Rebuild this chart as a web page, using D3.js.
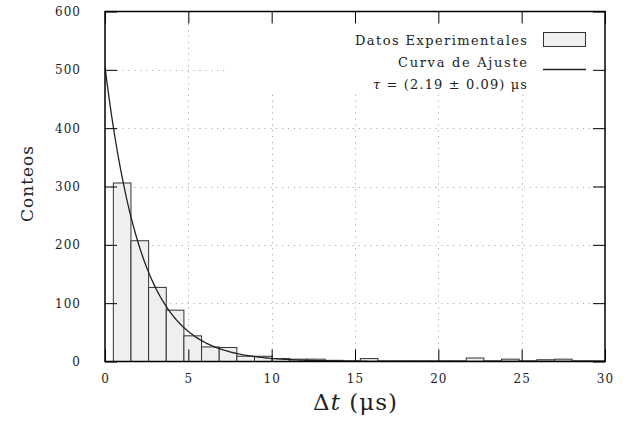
<!DOCTYPE html>
<html>
<head>
<meta charset="utf-8">
<script src="https://cdn.jsdelivr.net/npm/d3@7"></script>
<style>
  body { margin: 0; background: #fff; }
  svg { display: block; }
  text { font-family: "DejaVu Serif", serif; fill: #222; }
</style>
</head>
<body>
<div id="chart"></div>
<script>
// histogram of decay times (counts per bin)
const binStart = 0.5;
const binWidth = 1.0586;
const counts = [306, 207, 127, 88, 44, 25, 24, 9, 9, 5,
                4, 4, 2, 1, 5, 1, 1, 1, 1, 1,
                6, 1, 4, 1, 3, 4, 1, 1];

// fitted exponential  N(t) = A exp(-t / tau)
const fitA = 505;
const fitTau = 2.19;

const xTicks = [0, 5, 10, 15, 20, 25, 30];
const yTicks = [0, 100, 200, 300, 400, 500, 600];
const gridX = [5, 10, 15, 20, 25];
const gridY = [100, 200, 300, 400, 500];

const W = 638, H = 438;
const margin = {top: 11.5, right: 33, bottom: 76.5, left: 105};

const svg = d3.select("#chart").append("svg")
    .attr("width", W)
    .attr("height", H);

const x = d3.scaleLinear().domain([0, 30]).range([margin.left, W - margin.right]);
const y = d3.scaleLinear().domain([0, 600]).range([H - margin.bottom, margin.top]);

svg.append("defs").append("clipPath").attr("id", "plot")
  .append("rect")
    .attr("x", x(0)).attr("y", y(600))
    .attr("width", x(30) - x(0)).attr("height", y(0) - y(600));

// dotted grid
svg.append("g").selectAll("line")
  .data(gridX).enter().append("line")
    .attr("x1", d => Math.round(x(d)) + 0.5)
    .attr("x2", d => Math.round(x(d)) + 0.5)
    .attr("y1", y(0)).attr("y2", y(600))
    .attr("stroke", "#aaa").attr("stroke-width", 1)
    .attr("stroke-dasharray", "1.2,4.7");
svg.append("g").selectAll("line")
  .data(gridY).enter().append("line")
    .attr("y1", d => Math.round(y(d)) + 0.5)
    .attr("y2", d => Math.round(y(d)) + 0.5)
    .attr("x1", x(0)).attr("x2", x(30))
    .attr("stroke", "#aaa").attr("stroke-width", 1)
    .attr("stroke-dasharray", "1.2,4.7");

// bars
const bins = counts.map((c, i) => ({x0: binStart + i * binWidth, x1: binStart + (i + 1) * binWidth, n: c}));
svg.append("g").attr("clip-path", "url(#plot)")
  .selectAll("rect")
  .data(bins).enter().append("rect")
    .attr("x", d => x(d.x0))
    .attr("y", d => y(d.n))
    .attr("width", d => x(d.x1) - x(d.x0))
    .attr("height", d => y(0) - y(d.n))
    .attr("fill", "#efefef")
    .attr("stroke", "#333")
    .attr("stroke-width", 1);

// legend (opaque box hides the grid behind it)
const lg = svg.append("g");
lg.append("rect")
    .attr("x", 225).attr("y", y(600))
    .attr("width", x(30) - 225).attr("height", 80)
    .attr("fill", "#fff");
lg.append("text").attr("x", 527).attr("y", 45)
    .attr("text-anchor", "end").attr("font-size", 13)
    .attr("textLength", 172).attr("lengthAdjust", "spacing")
    .text("Datos Experimentales");
lg.append("rect")
    .attr("x", 543.5).attr("y", 32.5).attr("width", 42).attr("height", 14)
    .attr("fill", "#efefef").attr("stroke", "#333");
lg.append("text").attr("x", 527).attr("y", 67)
    .attr("text-anchor", "end").attr("font-size", 13)
    .attr("textLength", 129).attr("lengthAdjust", "spacing")
    .text("Curva de Ajuste");
lg.append("line")
    .attr("x1", 543).attr("x2", 586).attr("y1", 69.5).attr("y2", 69.5)
    .attr("stroke", "#222").attr("stroke-width", 1.3);
const tau = lg.append("text").attr("x", 527).attr("y", 89)
    .attr("text-anchor", "end").attr("font-size", 13)
    .attr("textLength", 154).attr("lengthAdjust", "spacing");
tau.append("tspan").attr("font-style", "italic").text("τ");
tau.append("tspan").text(" = (2.19 ± 0.09) μs");

// fitted curve
const tGrid = d3.range(0, 30.01, 0.1);
const line = d3.line()
    .x(t => x(t))
    .y(t => y(fitA * Math.exp(-t / fitTau)));
svg.append("path")
    .attr("clip-path", "url(#plot)")
    .attr("d", line(tGrid))
    .attr("fill", "none")
    .attr("stroke", "#222")
    .attr("stroke-width", 1.3);

// axes, ticks point inward on all four sides
const fmt = d3.format("d");
const styleLabels = g => g.selectAll("text")
    .attr("font-size", 12).attr("font-family", "DejaVu Serif")
    .attr("fill", "#222").attr("letter-spacing", 1);
svg.append("g")
    .attr("transform", `translate(0,${y(0)})`)
    .call(d3.axisBottom(x).tickValues(xTicks).tickFormat(fmt).tickSize(-12).tickPadding(13))
    .call(g => g.select(".domain").remove())
    .call(styleLabels);
svg.append("g")
    .attr("transform", `translate(${x(0)},0)`)
    .call(d3.axisLeft(y).tickValues(yTicks).tickFormat(fmt).tickSize(-12).tickPadding(24))
    .call(g => g.select(".domain").remove())
    .call(styleLabels);
svg.append("g")
    .attr("transform", `translate(0,${y(600)})`)
    .call(d3.axisTop(x).tickValues(xTicks).tickFormat("").tickSize(-12))
    .call(g => g.select(".domain").remove());
svg.append("g")
    .attr("transform", `translate(${x(30)},0)`)
    .call(d3.axisRight(y).tickValues(yTicks).tickFormat("").tickSize(-12))
    .call(g => g.select(".domain").remove());

// frame
svg.append("rect")
    .attr("x", x(0)).attr("y", y(600))
    .attr("width", x(30) - x(0)).attr("height", y(0) - y(600))
    .attr("fill", "none").attr("stroke", "#000").attr("stroke-width", 1.5);

// axis titles
const xt = svg.append("text")
    .attr("x", x(15)).attr("y", 410)
    .attr("text-anchor", "middle").attr("font-size", 23)
    .attr("textLength", 84).attr("lengthAdjust", "spacing");
xt.append("tspan").text("Δ");
xt.append("tspan").attr("font-style", "italic").text("t");
xt.append("tspan").text(" (μs)");

svg.append("text")
    .attr("transform", `translate(33,184) rotate(-90)`)
    .attr("text-anchor", "middle").attr("font-size", 17)
    .attr("textLength", 76).attr("lengthAdjust", "spacing")
    .text("Conteos");
</script>
</body>
</html>
